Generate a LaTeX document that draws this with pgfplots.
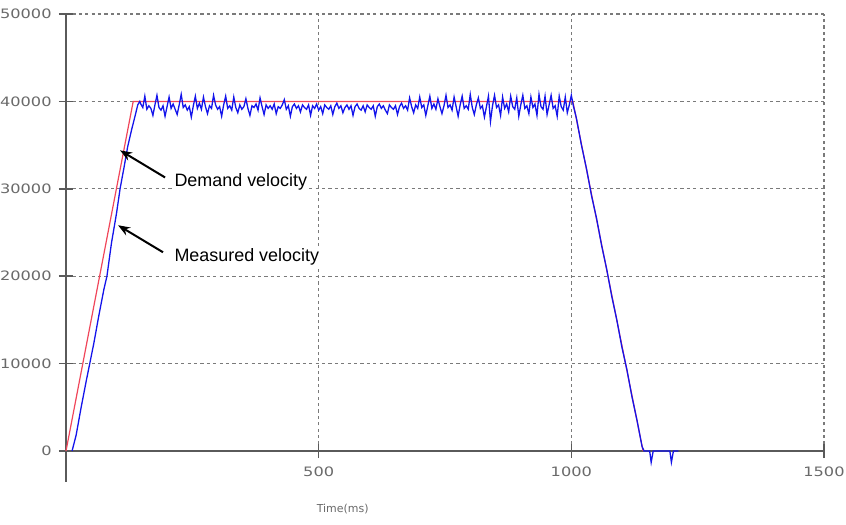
\documentclass[border=0pt]{standalone}
\usepackage{pgfplots}
\pgfplotsset{compat=1.18}
\usepackage{fontspec}
\setmainfont{Liberation Sans}
\newfontfamily\tickfont[FakeStretch=1.25]{DejaVu Sans}
\newfontfamily\labfont{DejaVu Sans}
\usetikzlibrary{arrows.meta}
\definecolor{axcol}{HTML}{5A5A5A}
\definecolor{gridcol}{HTML}{7A7A7A}
\definecolor{tickcol}{HTML}{6A6A6A}
\definecolor{demand}{RGB}{240,70,90}
\definecolor{meas}{RGB}{20,20,235}
\begin{document}
\begin{tikzpicture}
\begin{axis}[
  name=ax,
  scale only axis,
  width=379bp, height=218.5bp,
  xmin=0, xmax=1500, ymin=0, ymax=50000,
  clip=false,
  axis x line=bottom, axis y line=left,
  x axis line style={-, draw=axcol, line width=1bp},
  y axis line style={-, draw=axcol, line width=1bp},
  xtick={500,1000,1500},
  ytick={0,10000,20000,30000,40000,50000},
  scaled y ticks=false,
  yticklabel={\pgfmathprintnumber[fixed,1000 sep={}]{\tick}},
  xticklabel={\pgfmathprintnumber[fixed,1000 sep={}]{\tick}},
  /pgf/number format/assume math mode=true,
  tick align=center,
  major tick length=7bp,
  every tick/.style={draw=axcol, line width=0.8bp},
  grid=major,
  major grid style={draw=gridcol, line width=0.6bp, dash pattern=on 1.6bp off 1.6bp},
  tick label style={font=\tickfont\fontsize{6.5}{7}\selectfont, text=tickcol},
  yticklabel style={anchor=east, inner sep=0pt, xshift=-3.5bp},
  xticklabel style={anchor=north, inner sep=0pt, yshift=-4bp},
  xlabel={Time(ms)},
  xlabel style={at={(rel axis cs:0.365,0)}, anchor=center, yshift=-29bp,
    font=\labfont\fontsize{5.5}{6}\selectfont, text=tickcol},
]
% demand velocity
\addplot[demand, line width=0.6bp] coordinates {
 (0,0) (133,40000) (1003,40000) (1142,0)
};
% measured velocity
\addplot[meas, line width=0.65bp] coordinates {
 (12,0) (20,1800) (30,5000) (40,8000) (47,10000) (55,12300) (65,15500)
 (75,18500) (81,20000) (90,23800) (100,27200) (107,30000) (115,32500)
 (122,34800) (130,36800) (137,38400) (142,39600) (146,40000)
 (148,39700) (152,39300) (156,40600) (160,39100) (164,39500) (168,39200)
 (172,38400) (176,39600) (180,40700) (184,39300) (188,39000) (192,39500)
 (196,38300) (200,39400) (204,40500) (208,39200) (212,39700) (216,39100)
 (220,38500) (224,39600) (228,40800) (232,39300) (236,39600) (240,39000)
 (244,39400) (248,38200) (252,39500) (256,40600) (260,39200) (264,39800)
 (268,39100) (272,40500) (276,39400) (280,38600) (284,39500) (288,39200)
 (292,40700) (296,39600) (300,39100) (304,39400) (308,38300) (312,39600)
 (316,40600) (320,39200) (324,39500) (328,39000) (332,40500) (336,39300)
 (340,38700) (344,39600) (348,39100) (352,39400) (356,40300) (360,39200)
 (364,38400) (368,39500) (372,39300) (376,39700) (380,39000) (384,40400)
 (388,39400) (392,38500) (396,39600) (400,39200) (404,39500) (408,39100)
 (412,39700) (416,38600) (420,39400) (424,39200) (428,39600) (432,40200)
 (436,39100) (440,39500) (444,38300) (448,39400) (452,39700) (456,39200)
 (460,39500) (464,38800) (468,39600) (472,39300) (476,39100) (480,39600)
 (484,38400) (488,39500) (492,39200) (496,39700) (500,39000) (504,39400)
 (508,38600) (512,39600) (516,39300) (520,39100) (524,39500) (528,38500)
 (532,39400) (536,39800) (540,39200) (544,39500) (548,38700) (552,39300)
 (556,39600) (560,39100) (564,39500) (568,38400) (572,39400) (576,39700)
 (580,39200) (584,39000) (588,39500) (592,38800) (596,39600) (600,39300)
 (604,39100) (608,39500) (612,38300) (616,39400) (620,39700) (624,39200)
 (628,39500) (632,39000) (636,38600) (640,39600) (644,39300) (648,39100)
 (652,39500) (656,38500) (660,39400) (664,39800) (668,39200) (672,39500)
 (676,39000) (680,40400) (684,39400) (688,38700) (692,39600) (696,39200)
 (700,40500) (704,39300) (708,39600) (712,38400) (716,39500) (720,40600)
 (724,39200) (728,39700) (732,39100) (736,40300) (740,39400) (744,38600)
 (748,39500) (752,40700) (756,39300) (760,39600) (764,39000) (768,40500)
 (772,39400) (776,38300) (780,39600) (784,40600) (788,39200) (792,39500)
 (796,39100) (800,40800) (804,39300) (808,38500) (812,39600) (816,40400)
 (820,39200) (824,39500) (828,38200) (832,39400) (836,40600) (840,37700)
 (844,39500) (848,40700) (852,39300) (856,39600) (860,38400) (864,40500)
 (868,39200) (872,39700) (876,38800) (880,40600) (884,39400) (888,39100)
 (892,40400) (896,38300) (900,39600) (904,40700) (908,39200) (912,39500)
 (916,38600) (920,40500) (924,39300) (928,39700) (932,38400) (936,40800)
 (940,39400) (944,39100) (948,40600) (952,38500) (956,39600) (960,40700)
 (964,39200) (968,39500) (972,38300) (976,40600) (980,39400) (984,39000)
 (988,40500) (992,38700) (996,39600) (1000,40700) (1004,39500)
 (1010,38100) (1020,35000) (1030,32300) (1040,29200) (1050,26600)
 (1060,23500) (1070,20800) (1080,17700) (1090,15000) (1100,11900)
 (1110,9300) (1120,6200) (1130,3500) (1140,500) (1144,0)
 (1155,0) (1158,-1300) (1162,0) (1195,0) (1198,-1300) (1202,0) (1212,0)
};
\draw[axcol, line width=1bp] (axis cs:0,0) -- (axis cs:0,-3500);
% annotations
\draw[-{Stealth[length=6bp,width=4.5bp]}, line width=1bp] (axis cs:196,31300) -- (axis cs:107,34400);
\draw[-{Stealth[length=6bp,width=4.5bp]}, line width=1bp] (axis cs:192,22740) -- (axis cs:103,25830);
\node[anchor=west, fill=white, inner sep=1bp, font=\fontsize{9}{11}\selectfont] at (axis cs:210,30740) {Demand velocity};
\node[anchor=west, fill=white, inner sep=1bp, font=\fontsize{9}{11}\selectfont] at (axis cs:210,22170) {Measured velocity};
\end{axis}
\pgfresetboundingbox
\path[use as bounding box] ([shift={(-33bp,-37bp)}]ax.south west) rectangle ([shift={(11bp,7bp)}]ax.north east);
\end{tikzpicture}
\end{document}
